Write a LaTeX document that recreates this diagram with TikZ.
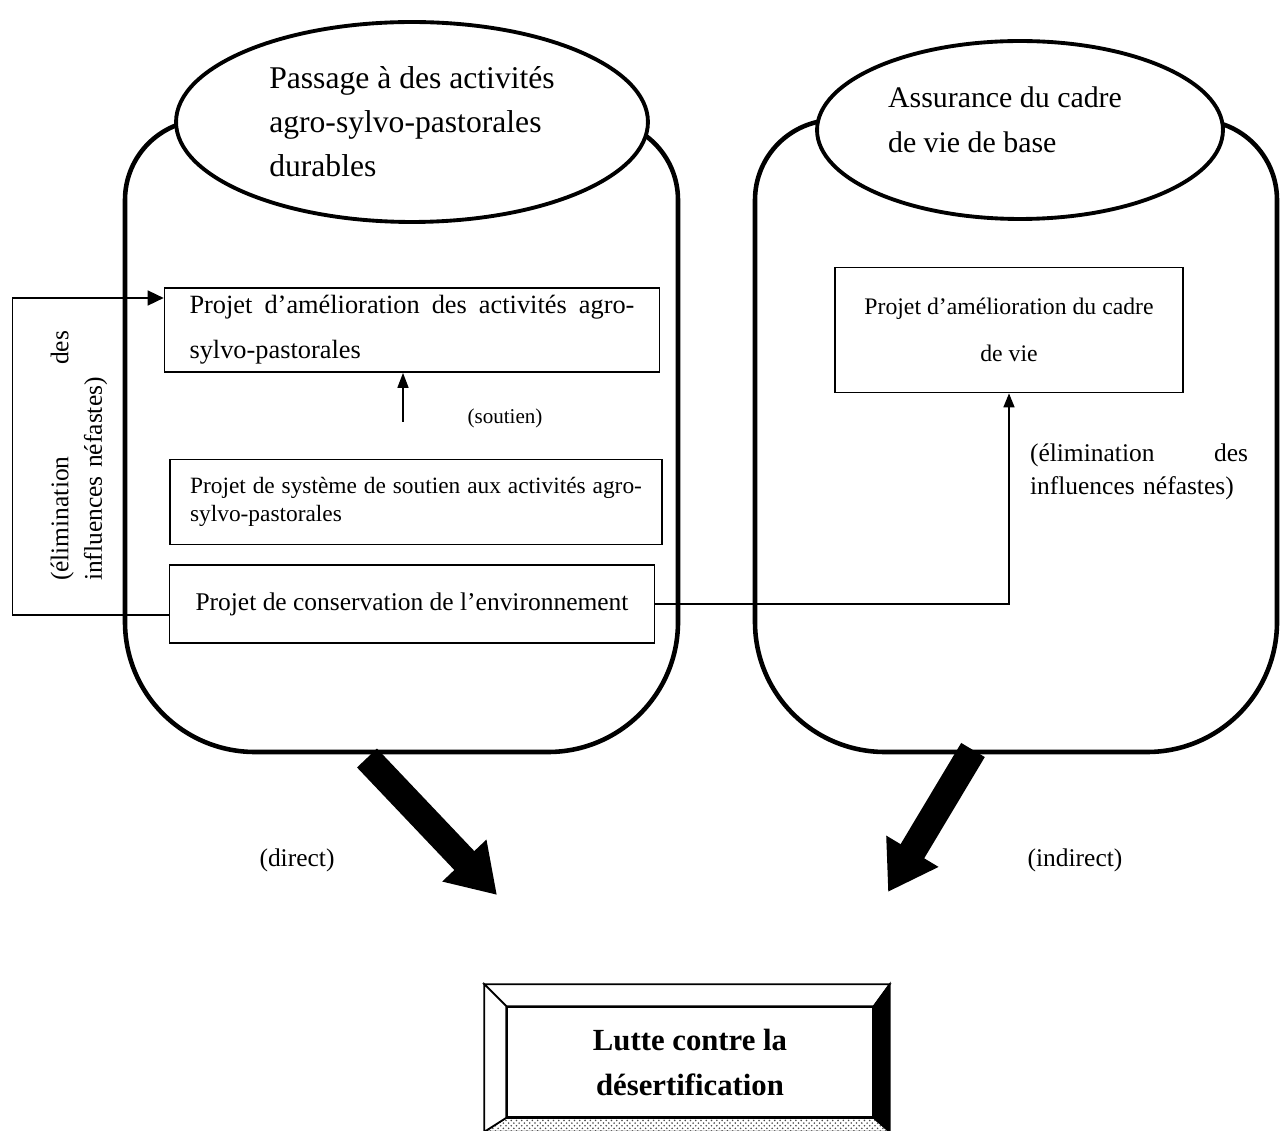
\documentclass[tikz,border=0pt]{standalone}
\usepackage{fontspec}
\setmainfont{Liberation Serif}
\usetikzlibrary{arrows.meta,shapes.geometric,patterns,calc}
\newcommand{\spreadline}[1]{\hbox to \hsize{\spaceskip=0.25em plus 1fil\relax #1}}

\begin{document}
\begin{tikzpicture}[
  x=0.02cm, y=-0.02cm,
  jar/.style={draw, line width=2.6pt},
  capoval/.style={draw, ellipse, fill=white, line width=2.2pt, inner sep=0pt},
  captext/.style={align=left, inner sep=0pt},
  projbox/.style={draw, line width=1pt, inner sep=0pt, align=left},
  link/.style={line width=0.9pt},
  feed/.style={link, -{Triangle[length=0.32cm, width=0.3cm]}},
  note/.style={inner sep=0pt, align=left, font=\fontsize{14.5}{19}\selectfont},
  bigarrow/.style={line width=0.55cm, -{Triangle[length=0.95cm, width=1.15cm]}},
  bevel/.style={draw, line width=1pt}
]

\useasboundingbox (0,0) rectangle (1285,1131);

% Jars
\draw[jar] (400,120) [rounded corners=1.6cm] -- (125,120) [rounded corners=2.6cm] -- (125,752) -- (678,752) [rounded corners=1.6cm] -- (678,120) -- cycle;
\draw[jar] (1016,120) [rounded corners=1.6cm] -- (755,120) [rounded corners=2.6cm] -- (755,752) -- (1277,752) [rounded corners=1.6cm] -- (1277,120) -- cycle;

% Caps
\node[capoval, minimum width=9.44cm, minimum height=4cm] (leftcap) at (412,122) {};
\node[capoval, minimum width=8.12cm, minimum height=3.56cm] (rightcap) at (1020,130) {};
\node[captext, font=\fontsize{18}{25}\selectfont] (leftcaptitle) at (412,122) {Passage à des activités\\agro-sylvo-pastorales\\durables};
\node[captext, font=\fontsize{17}{25.6}\selectfont] (rightcaptitle) at (1005,120) {Assurance du cadre\\de vie de base};

% Project boxes
\node[projbox, minimum width=9.9cm, minimum height=1.68cm, text width=8.9cm, font=\fontsize{15}{25.6}\selectfont] (agrobox) at (412,330) {\spreadline{Projet d’amélioration des activités agro-}\\sylvo-pastorales};
\node[projbox, minimum width=9.84cm, minimum height=1.7cm, text width=9.04cm, font=\fontsize{13.3}{15.5}\selectfont] (supportbox) at (416,502) {\spreadline{Projet de système de soutien aux activités agro-}\\sylvo-pastorales};
\node[projbox, minimum width=9.7cm, minimum height=1.56cm, font=\fontsize{14.5}{18}\selectfont] (envbox) at (412,604) {Projet de conservation de l’environnement};
\node[projbox, align=center, minimum width=6.96cm, minimum height=2.5cm, font=\fontsize{13.5}{26.7}\selectfont] (lifebox) at (1009,330) {Projet d’amélioration du cadre\\de vie};

% Support link
\coordinate (soutienfoot) at (403,422);
\draw[link, -{Triangle[length=0.3cm, width=0.22cm]}] (soutienfoot) -- (soutienfoot |- agrobox.south);
\node[font=\fontsize{12}{14}\selectfont] (soutienlabel) at (505,418) {(soutien)};

% Elimination links
\draw[feed] ([yshift=-0.22cm]envbox.west) -- ++(-156,0) |- ([yshift=0.64cm]agrobox.west);
\node[note, rotate=90, text width=5cm] (leftnote) at (79,456) {\spreadline{(élimination des}\\influences néfastes)};
\draw[link, -{Triangle[length=0.28cm, width=0.22cm]}] (envbox.east) -| (lifebox.south);
\node[note, text width=4.36cm] (rightnote) at (1139,472) {\spreadline{(élimination des}\\influences néfastes)};

% Big arrows
\coordinate (directtail) at (367,758);
\coordinate (directhead) at (497,895);
\coordinate (indirecttail) at (973,750);
\coordinate (indirecthead) at (888,892);
\draw[bigarrow] (directtail) -- (directhead);
\draw[bigarrow] (indirecttail) -- (indirecthead);
\node[note] (directlabel) at (297,860) {(direct)};
\node[note] (indirectlabel) at (1075,860) {(indirect)};

% Goal box
\node[draw, line width=1pt, minimum width=7.32cm, minimum height=2.2cm, align=center, font=\bfseries\fontsize{17.5}{25.6}\selectfont] (lutte) at (690,1062) {Lutte contre la\\désertification};
\coordinate (lutteNW) at ($(lutte.north west)+(-22,-22)$);
\coordinate (lutteNE) at ($(lutte.north east)+(16,-22)$);
\coordinate (lutteSE) at ($(lutte.south east)+(16,14)$);
\coordinate (lutteSW) at ($(lutte.south west)+(-22,14)$);
\draw[bevel, fill=white] (lutteNW) -- (lutteNE) -- (lutte.north east) -- (lutte.north west) -- cycle;
\draw[bevel, fill=black] (lutteNE) -- (lutteSE) -- (lutte.south east) -- (lutte.north east) -- cycle;
\draw[bevel, fill=black!25, pattern=crosshatch dots, pattern color=black!70] (lutteSE) -- (lutteSW) -- (lutte.south west) -- (lutte.south east) -- cycle;
\draw[bevel, fill=white] (lutteSW) -- (lutteNW) -- (lutte.north west) -- (lutte.south west) -- cycle;

\end{tikzpicture}
\end{document}
